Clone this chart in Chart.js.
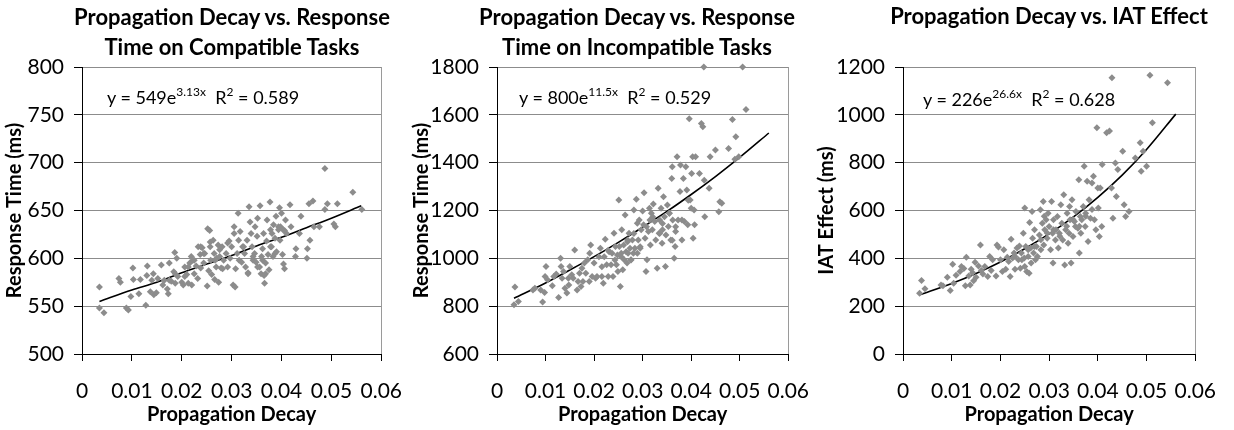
<!DOCTYPE html>
<html>
<head>
<meta charset="utf-8">
<script src="https://cdn.jsdelivr.net/npm/chart.js@4"></script>
<style>
  body { margin: 0; background: #fff; }
  #wrap { position: relative; width: 1234px; height: 430px; overflow: hidden; font-family: Lato, sans-serif; }
  .panel { position: absolute; top: 0; height: 430px; }
  .title { position: absolute; font-weight: bold; font-size: 22px; line-height: 30px; text-align: center; white-space: nowrap; color: #000; z-index: 2; }
  .eq { position: absolute; font-size: 18px; line-height: 22px; white-space: pre; color: #000; z-index: 2; }
  .eq sup { font-size: 12px; vertical-align: 8px; line-height: 0; }
</style>
</head>
<body>
<div id="wrap">
  <div class="panel" style="left:0;width:420px"><canvas id="chart-compat"></canvas></div>
  <div class="panel" style="left:407px;width:420px"><canvas id="chart-incompat"></canvas></div>
  <div class="panel" style="left:812px;width:422px"><canvas id="chart-iat"></canvas></div>

  <div class="title" style="left:52px;width:360px;top:2px">Propagation Decay vs. Response<br>Time on Compatible Tasks</div>
  <div class="title" style="left:457px;width:360px;top:2px">Propagation Decay vs. Response<br>Time on Incompatible Tasks</div>
  <div class="title" style="left:869px;width:360px;top:1px">Propagation Decay vs. IAT Effect</div>

  <div class="eq" style="left:107px;top:86px">y = 549e<sup>3.13x</sup>  R<sup>2</sup> = 0.589</div>
  <div class="eq" style="left:519px;top:86px">y = 800e<sup>11.5x</sup>  R<sup>2</sup> = 0.529</div>
  <div class="eq" style="left:923px;top:88px">y = 226e<sup>26.6x</sup>  R<sup>2</sup> = 0.628</div>
</div>

<script>
// tick labels
const xTicks = ['0', '0.01', '0.02', '0.03', '0.04', '0.05', '0.06'];
const compatTicks = ['500', '550', '600', '650', '700', '750', '800'];
const incompatTicks = ['600', '800', '1000', '1200', '1400', '1600', '1800'];
const iatTicks = ['0', '200', '400', '600', '800', '1000', '1200'];

// trend lines
const trendX = [0.0035, 0.01, 0.015, 0.02, 0.025, 0.03, 0.035, 0.04, 0.045, 0.05, 0.056];
const compatTrend = [555, 567, 575, 585, 594, 603, 613, 622, 632, 642, 655];
const incompatTrend = [833, 897, 951, 1007, 1067, 1130, 1196, 1267, 1342, 1422, 1524];
const iatTrend = [248, 295, 337, 385, 440, 502, 573, 655, 748, 855, 1003];

// [propagation decay, response time]
const compatPoints = [
  [0.0035,570],[0.0035,548],[0.0044,543],[0.0074,579],[0.0077,575],[0.0089,548],[0.0093,546],[0.0098,560],
  [0.0102,590],[0.0103,578],[0.0114,563],[0.0117,578],[0.0128,551],[0.013,582],[0.0131,592],[0.0137,565],
  [0.014,577],[0.0143,584],[0.0144,562],[0.0149,564],[0.0152,579],[0.0159,593],[0.0162,572],[0.0165,577],
  [0.0171,568],[0.0173,563],[0.0175,595],[0.0175,577],[0.0179,576],[0.0184,586],[0.0186,606],[0.0187,574],
  [0.0187,584],[0.019,600],[0.0192,581],[0.02,575],[0.0203,572],[0.0206,591],[0.0206,581],[0.021,583],
  [0.0213,574],[0.0213,591],[0.0216,595],[0.0219,602],[0.022,572],[0.0222,598],[0.0225,584],[0.0225,598],
  [0.0229,592],[0.0232,579],[0.0233,612],[0.0237,604],[0.0238,590],[0.0238,612],[0.0241,611],[0.0244,595],
  [0.0244,605],[0.0246,605],[0.0251,571],[0.0252,631],[0.0254,587],[0.0256,629],[0.0257,612],[0.0257,617],
  [0.0258,598],[0.026,583],[0.0263,619],[0.0265,605],[0.0266,578],[0.0267,598],[0.0269,591],[0.027,600],
  [0.0273,614],[0.0274,575],[0.0276,602],[0.0276,609],[0.0279,590],[0.0281,612],[0.0282,589],[0.0284,598],
  [0.0289,605],[0.0292,591],[0.0292,616],[0.0295,618],[0.0297,600],[0.03,612],[0.0303,572],[0.0305,633],
  [0.0305,626],[0.0307,570],[0.0308,589],[0.0311,605],[0.0313,647],[0.0314,619],[0.0315,598],[0.0317,628],
  [0.032,596],[0.0322,612],[0.0324,612],[0.0326,605],[0.0328,591],[0.0331,619],[0.0333,585],[0.0333,584],
  [0.0335,654],[0.0337,638],[0.0339,626],[0.0341,612],[0.0343,598],[0.0343,602],[0.0346,605],[0.0347,633],
  [0.0349,596],[0.0351,623],[0.0352,642],[0.0352,591],[0.0356,591],[0.0357,655],[0.0359,584],[0.036,602],
  [0.0362,610],[0.0362,598],[0.0364,626],[0.0365,582],[0.0366,574],[0.0368,595],[0.0368,584],[0.037,618],
  [0.0371,640],[0.0373,604],[0.0375,588],[0.0377,659],[0.0378,630],[0.0378,612],[0.038,612],[0.0381,626],
  [0.0383,602],[0.0384,635],[0.0387,621],[0.0387,605],[0.0389,644],[0.039,607],[0.0394,630],[0.0394,633],
  [0.0396,653],[0.0397,619],[0.0398,633],[0.04,647],[0.0402,604],[0.0403,630],[0.0404,594],[0.0406,589],
  [0.0406,629],[0.0408,640],[0.041,626],[0.0417,656],[0.0419,633],[0.0428,602],[0.0429,610],[0.0436,626],
  [0.0439,644],[0.0451,600],[0.0452,610],[0.0455,657],[0.0457,619],[0.0463,660],[0.0465,633],[0.0476,633],
  [0.0487,694],[0.0487,651],[0.0492,657],[0.0505,636],[0.0508,633],[0.0512,657],[0.0543,669],[0.0561,651]
];

const incompatPoints = [
  [0.0035,806],[0.0037,880],[0.0044,820],[0.0074,868],[0.0078,875],[0.009,868],[0.0094,817],[0.0098,857],
  [0.0099,924],[0.0101,966],[0.0104,910],[0.0114,885],[0.0117,924],[0.0122,935],[0.0127,836],[0.0131,1000],
  [0.0132,966],[0.0134,917],[0.0137,945],[0.014,875],[0.0144,855],[0.0147,917],[0.0148,889],[0.015,966],
  [0.0154,931],[0.0157,917],[0.016,1035],[0.0165,868],[0.0167,903],[0.017,938],[0.0173,882],[0.0175,959],
  [0.0177,903],[0.018,980],[0.0183,938],[0.0187,994],[0.019,903],[0.0191,1021],[0.0193,1056],[0.0196,924],
  [0.02,980],[0.0203,917],[0.0206,924],[0.021,1007],[0.0213,1042],[0.0216,924],[0.0216,965],[0.0219,896],
  [0.0221,1007],[0.0223,1080],[0.0226,973],[0.0229,924],[0.0229,1034],[0.0231,1028],[0.0235,973],[0.0237,1021],
  [0.0239,924],[0.0241,1105],[0.0243,993],[0.0244,1049],[0.0246,973],[0.0248,1014],[0.0249,945],[0.0251,1244],
  [0.0252,1049],[0.0254,882],[0.0256,1007],[0.0256,1021],[0.0257,1119],[0.0259,952],[0.0261,1056],[0.0262,994],
  [0.0264,1181],[0.0266,1028],[0.0268,980],[0.0269,1077],[0.0269,1069],[0.027,1021],[0.0272,1105],[0.0274,1042],
  [0.0276,994],[0.0276,993],[0.0279,1077],[0.0281,1021],[0.0282,1202],[0.0282,1104],[0.0284,1042],[0.0287,1247],
  [0.0289,1147],[0.0289,1021],[0.0291,1077],[0.0293,1160],[0.0295,1042],[0.0295,1048],[0.0297,1119],[0.03,1198],
  [0.0302,1140],[0.0303,1274],[0.0305,1084],[0.0307,945],[0.0308,1132],[0.0309,994],[0.0312,1112],[0.0314,1209],
  [0.0315,1160],[0.0316,1056],[0.0318,1188],[0.032,1119],[0.0321,1173],[0.0322,1227],[0.0325,1154],[0.0327,1077],
  [0.033,959],[0.0332,1293],[0.0334,1105],[0.0335,1160],[0.0335,1104],[0.0338,1209],[0.034,1063],[0.0341,1119],
  [0.0341,1146],[0.0343,1258],[0.0345,1174],[0.0347,966],[0.0348,1098],[0.0351,1223],[0.0353,1133],[0.0355,1188],
  [0.0355,1188],[0.0358,1077],[0.036,1334],[0.0361,1383],[0.0361,1076],[0.0362,1160],[0.0365,1000],[0.0367,1049],
  [0.0368,1112],[0.0368,1132],[0.0371,1425],[0.0373,1160],[0.0377,1279],[0.0378,1390],[0.0381,1077],[0.0381,1160],
  [0.0384,1334],[0.0386,1154],[0.0389,1383],[0.0391,1286],[0.0393,1140],[0.0394,1243],[0.0396,1584],[0.0398,1244],
  [0.04,1209],[0.0401,1355],[0.0403,1425],[0.0404,1084],[0.0406,1202],[0.0407,1140],[0.0409,1425],[0.0417,1355],
  [0.0421,1564],[0.0424,1550],[0.0426,1800],[0.0427,1327],[0.0428,1174],[0.0437,1293],[0.0439,1425],[0.045,1453],
  [0.0457,1195],[0.0459,1237],[0.0463,1230],[0.0477,1459],[0.0485,1580],[0.049,1414],[0.0492,1508],[0.0498,1425],
  [0.0506,1800],[0.0513,1622]
];

const iatPoints = [
  [0.0038,307],[0.0034,254],[0.0045,273],[0.0078,289],[0.0082,285],[0.0091,321],[0.0097,265],[0.0102,375],
  [0.0104,296],[0.0109,329],[0.0117,345],[0.012,366],[0.0125,357],[0.0128,285],[0.013,405],[0.0135,326],
  [0.0138,289],[0.014,354],[0.0143,340],[0.0145,306],[0.0148,384],[0.015,321],[0.0155,368],[0.0159,456],
  [0.0161,349],[0.0164,335],[0.0168,366],[0.0174,324],[0.0178,408],[0.0181,349],[0.0184,394],[0.0191,326],
  [0.0193,456],[0.0196,447],[0.02,394],[0.0204,345],[0.0207,436],[0.0211,354],[0.0214,405],[0.0217,387],
  [0.022,324],[0.0222,480],[0.0225,401],[0.0228,422],[0.023,354],[0.023,408],[0.0234,443],[0.0237,394],
  [0.0239,452],[0.0241,359],[0.0243,422],[0.0244,394],[0.0247,505],[0.0249,401],[0.025,610],[0.025,366],
  [0.0252,449],[0.0254,345],[0.0257,408],[0.0257,436],[0.0259,338],[0.026,550],[0.0262,443],[0.0263,380],
  [0.0265,596],[0.0266,484],[0.0268,422],[0.027,519],[0.027,450],[0.0272,394],[0.0274,449],[0.0276,408],
  [0.028,498],[0.0282,603],[0.0283,436],[0.0283,478],[0.0286,547],[0.0288,638],[0.0289,456],[0.029,576],
  [0.0291,519],[0.0294,561],[0.0296,484],[0.0296,506],[0.0298,589],[0.03,533],[0.0303,436],[0.0305,638],
  [0.0307,505],[0.0308,380],[0.0309,561],[0.0309,520],[0.0313,477],[0.0314,519],[0.0317,575],[0.0319,443],
  [0.0321,505],[0.0322,492],[0.0324,624],[0.0326,547],[0.0328,477],[0.033,666],[0.0332,372],[0.0334,519],
  [0.0336,534],[0.0337,589],[0.0339,463],[0.0341,505],[0.0342,617],[0.0343,561],[0.0345,380],[0.0347,645],
  [0.0349,491],[0.0349,562],[0.0352,554],[0.0354,533],[0.0355,596],[0.0359,526],[0.0361,729],[0.0362,422],
  [0.0362,534],[0.0364,575],[0.0365,505],[0.0367,561],[0.037,617],[0.0372,785],[0.0374,533],[0.0375,589],
  [0.0375,576],[0.0378,722],[0.038,470],[0.0382,645],[0.0385,568],[0.0388,715],[0.0388,604],[0.0391,743],
  [0.0393,561],[0.0396,519],[0.0398,946],[0.04,694],[0.0401,610],[0.0403,491],[0.0405,694],[0.0408,533],
  [0.0409,792],[0.0418,925],[0.0424,932],[0.0428,694],[0.0429,1155],[0.0431,568],[0.0436,799],[0.0438,659],
  [0.0441,771],[0.0451,848],[0.0454,624],[0.0457,575],[0.0464,596],[0.0477,820],[0.0487,883],[0.0489,764],
  [0.0493,848],[0.05,785],[0.0507,1165],[0.0512,967],[0.0543,1134]
];

Chart.defaults.font.family = 'Lato, sans-serif';
Chart.defaults.color = '#000';

function toXY(pairs) {
  return pairs.map(p => ({ x: p[0], y: p[1] }));
}

function makePanel(id, points, trend, yTicks, yTitle, yWidth, padRight) {
  const xMax = Number(xTicks[xTicks.length - 1]);
  const yMin = Number(yTicks[0]);
  const yMax = Number(yTicks[yTicks.length - 1]);

  return new Chart(document.getElementById(id), {
    type: 'scatter',
    data: {
      datasets: [
        {
          data: toXY(points),
          pointStyle: 'rectRot',
          pointRadius: 3.5,
          pointBackgroundColor: '#8c8c8c',
          pointBorderWidth: 0,
          clip: false
        },
        {
          type: 'line',
          data: trendX.map((x, i) => ({ x, y: trend[i] })),
          borderColor: '#000',
          borderWidth: 1.6,
          pointRadius: 0,
          fill: false,
          cubicInterpolationMode: 'monotone'
        }
      ]
    },
    options: {
      responsive: true,
      maintainAspectRatio: false,
      animation: false,
      events: [],
      layout: {
        padding: { top: 67, right: padRight, bottom: 0, left: 0 }
      },
      plugins: {
        legend: { display: false },
        tooltip: { enabled: false }
      },
      scales: {
        x: {
          type: 'linear',
          min: 0,
          max: xMax,
          afterFit: scale => { scale.height = 76; },
          ticks: {
            stepSize: 0.01,
            padding: 18,
            font: { size: 21 },
            maxRotation: 0,
            callback: (v, i) => xTicks[i]
          },
          grid: {
            drawOnChartArea: true,
            tickLength: 7,
            tickColor: '#000',
            color: ctx => (ctx.tick && Math.abs(ctx.tick.value - xMax) < 1e-9 ? '#9a9a9a' : 'rgba(0,0,0,0)')
          },
          border: { color: '#000', width: 1 },
          title: {
            display: true,
            text: 'Propagation Decay',
            font: { size: 20, weight: 'bold' },
            padding: { top: 0, bottom: 3 }
          }
        },
        y: {
          min: yMin,
          max: yMax,
          afterFit: scale => { scale.width = yWidth; },
          ticks: {
            stepSize: yTicks[1] - yTicks[0],
            padding: 10,
            font: { size: 21 },
            callback: (v, i) => yTicks[i]
          },
          grid: {
            color: '#8c8c8c',
            tickLength: 8,
            tickColor: '#000'
          },
          border: { color: '#000', width: 1 },
          title: {
            display: true,
            text: yTitle,
            font: { size: 20, weight: 'bold' },
            padding: { top: 3, bottom: 0 }
          }
        }
      }
    }
  });
}

window.addEventListener('DOMContentLoaded', () => {
  makePanel('chart-compat', compatPoints, compatTrend, compatTicks, 'Response Time (ms)', 82, 23);
  makePanel('chart-incompat', incompatPoints, incompatTrend, incompatTicks, 'Response Time (ms)', 90, 26);
  makePanel('chart-iat', iatPoints, iatTrend, iatTicks, 'IAT Effect (ms)', 91, 27);
});
</script>
</body>
</html>
